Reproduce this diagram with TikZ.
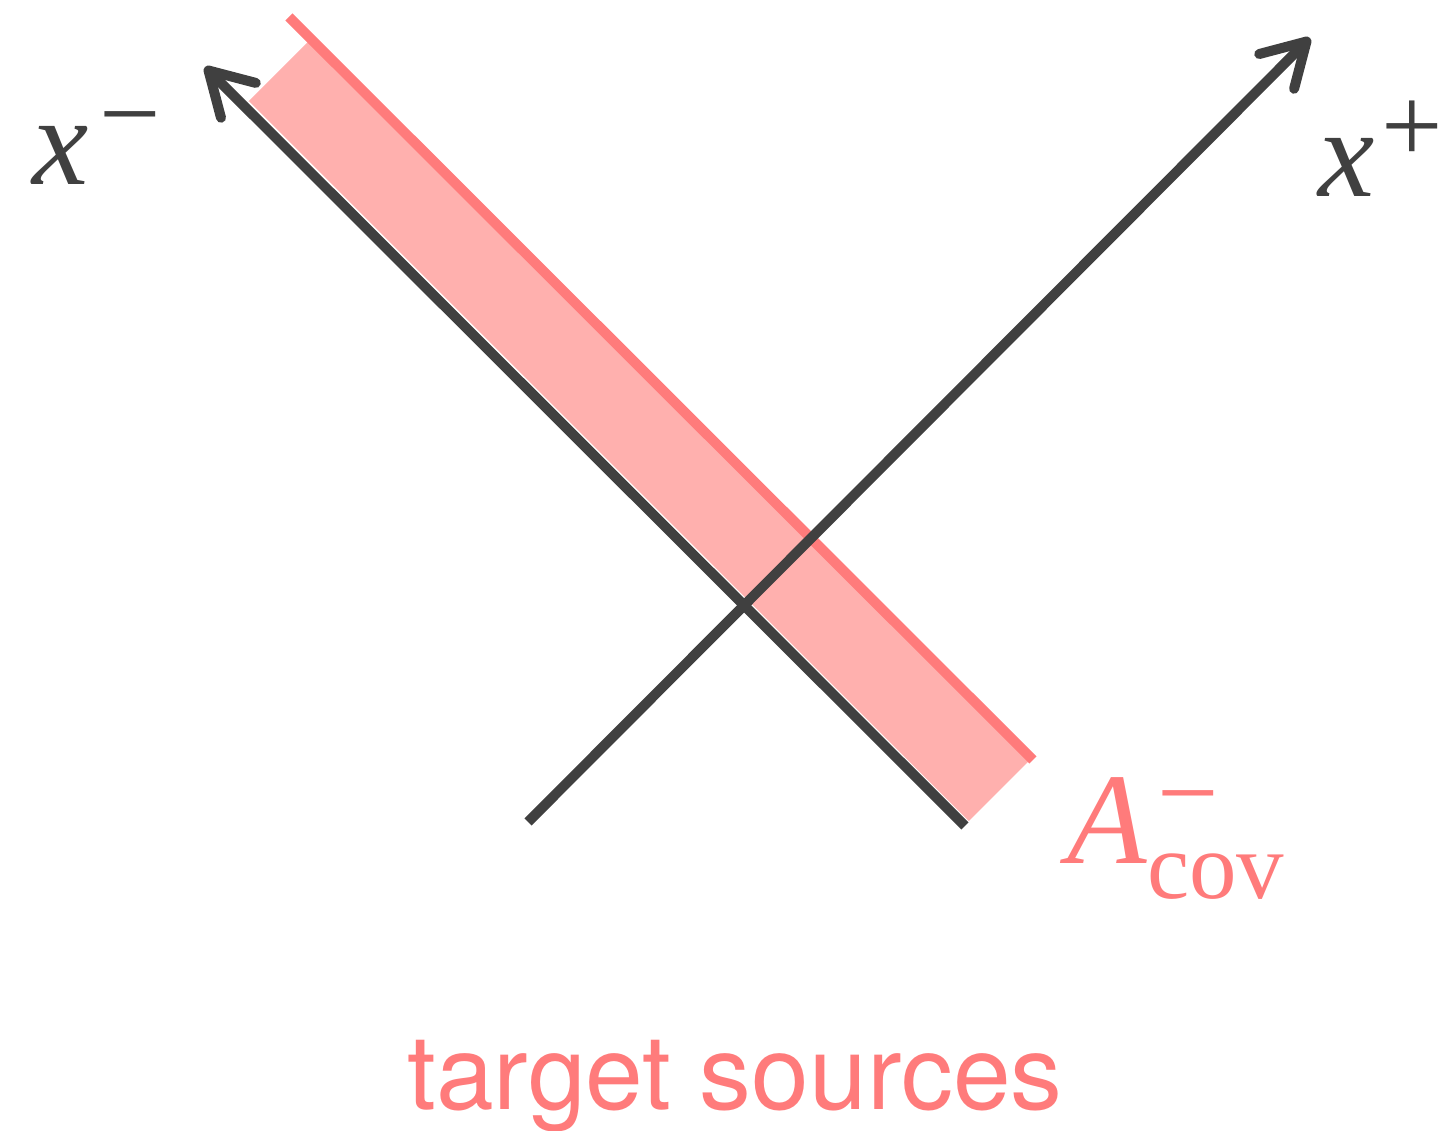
\documentclass[tikz,border=0pt]{standalone}
\usepackage{fontspec}
\newfontfamily\labelsans{TeX Gyre Heros}
\newfontfamily\labelserif{Liberation Serif}
\usetikzlibrary{arrows.meta}
\definecolor{axisgray}{HTML}{404040}
\definecolor{covred}{HTML}{FF7B7B}
\definecolor{covfill}{HTML}{FFB0AE}
\newcommand\supsign[1]{\raisebox{9.7pt}{\fontsize{31}{34}\selectfont\upshape #1}}
\begin{document}
\begin{tikzpicture}[x=.01cm,y=-.01cm,
    axis/.style={draw=axisgray,line width=10*.2845pt,line cap=butt,
      -{Straight Barb[length=12pt,width=14pt,round]}},
    halo/.style={draw=white,line width=12*.2845pt},
    edge/.style={draw=covred,line width=10*.2845pt},
    band/.style={fill=covfill,draw=none},
    lab/.style={text=axisgray,inner sep=0pt,font=\labelserif\fontsize{36}{40}\selectfont},
    covlab/.style={text=covred,inner sep=0pt,font=\labelserif\fontsize{37}{40}\selectfont}]
\useasboundingbox (0,0) rectangle (1444,1131);
% axes end points
\coordinate (mstart) at (965,826);
\coordinate (mtip) at (205,67);
\coordinate (pstart) at (528,822);
\coordinate (ptip) at (1310,38);
% covered band
\coordinate (b1) at (244.5,105.5);
\coordinate (b2) at (311,39);
\coordinate (b3) at (1031,759);
\coordinate (b4) at (964.5,825.5);
\coordinate (r1) at (289,17);
\coordinate (r2) at (1033,760);
\path[band] (b1) -- (b2) -- (b3) -- (b4) -- cycle;
\draw[edge] (r1) -- (r2);
\draw[halo] (mstart) -- (b1);
\draw[axis] (mstart) -- (mtip);
\draw[axis] (pstart) -- (ptip);
% labels
\node[lab,anchor=base west] (xm) at (32,185)
  {\itshape x\hspace{3pt}\supsign{−}};
\node[lab,anchor=base west] (xp) at (1318,197)
  {\itshape x\hspace{2pt}\supsign{+}};
\node[covlab,anchor=base west] (acov) at (1067,864)
  {\itshape A\rlap{\hspace{3pt}\supsign{−}}%
   \raisebox{-9.7pt}{\fontsize{27}{30}\selectfont\upshape cov}};
\node[text=covred,anchor=base,inner sep=0pt,font=\labelsans\fontsize{29.5}{32}\selectfont]
  (src) at (735,1110) {target sources};
\end{tikzpicture}
\end{document}
